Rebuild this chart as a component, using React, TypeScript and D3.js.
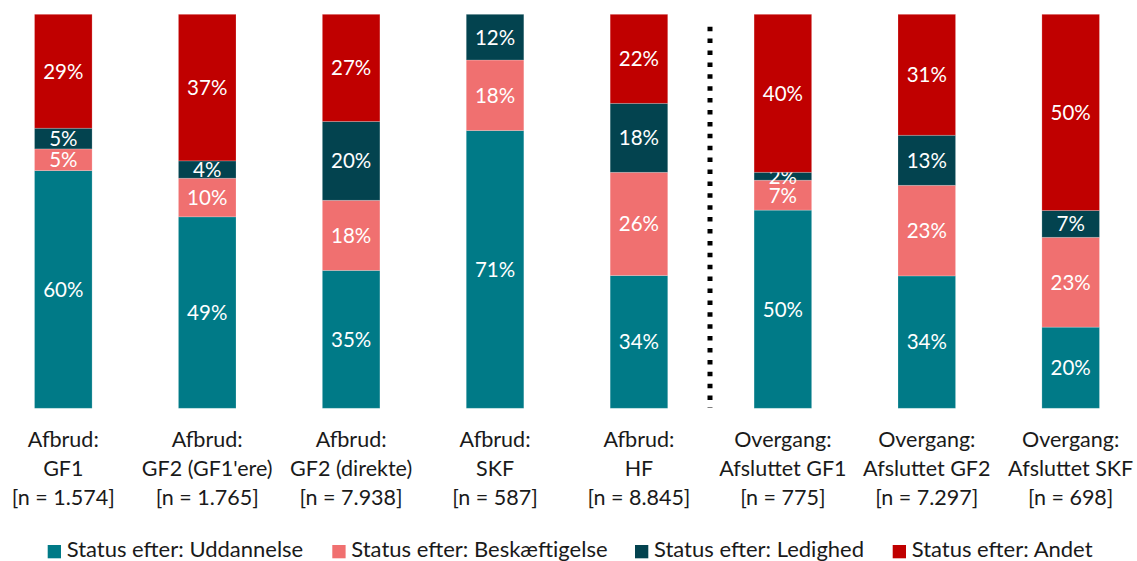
import React from "react";
import * as d3 from "d3";

const categories = [
  ["Afbrud:", "GF1", "[n = 1.574]"],
  ["Afbrud:", "GF2 (GF1'ere)", "[n = 1.765]"],
  ["Afbrud:", "GF2 (direkte)", "[n = 7.938]"],
  ["Afbrud:", "SKF", "[n = 587]"],
  ["Afbrud:", "HF", "[n = 8.845]"],
  ["Overgang:", "Afsluttet GF1", "[n = 775]"],
  ["Overgang:", "Afsluttet GF2", "[n = 7.297]"],
  ["Overgang:", "Afsluttet SKF", "[n = 698]"],
];

const seriesNames = [
  "Status efter: Uddannelse",
  "Status efter: Beskæftigelse",
  "Status efter: Ledighed",
  "Status efter: Andet",
];

const uddannelse = [60.3, 48.6, 35.0, 70.5, 33.7, 50.3, 33.6, 20.6];
const beskaeftigelse = [5.5, 9.8, 17.8, 17.9, 26.2, 7.6, 23.0, 22.8];
const ledighed = [5.25, 4.4, 20.0, 11.6, 17.5, 2.0, 12.7, 6.8];
const andet = [28.9, 37.2, 27.2, 0, 22.6, 40.1, 30.7, 49.8];

const labelsUdd = ["60%", "49%", "35%", "71%", "34%", "50%", "34%", "20%"];
const labelsBesk = ["5%", "10%", "18%", "18%", "26%", "7%", "23%", "23%"];
const labelsLed = ["5%", "4%", "20%", "12%", "18%", "2%", "13%", "7%"];
const labelsAndet = ["29%", "37%", "27%", "", "22%", "40%", "31%", "50%"];

const colors = ["#007A87", "#F07070", "#03434F", "#C00000"];

const W = 1137;
const H = 561;
const FONT = "Lato, 'Open Sans', sans-serif";

export default function App() {
  const series = [uddannelse, beskaeftigelse, ledighed, andet];
  const labels = [labelsUdd, labelsBesk, labelsLed, labelsAndet];
  const keys = categories.map((c) => c.join("|"));

  const x = d3
    .scaleBand<string>()
    .domain(keys)
    .range([-8.65, 1142.65])
    .paddingInner(0.6)
    .paddingOuter(0.3);

  const y = d3.scaleLinear().domain([0, 100]).range([408.3, 14.3]);

  const rows = keys.map((k, i) => {
    const total = series.reduce((s, arr) => s + arr[i], 0);
    const r: any = { key: k };
    series.forEach((arr, j) => (r["s" + j] = (arr[i] / total) * 100));
    return r;
  });
  const stack = d3.stack<any>().keys(["s0", "s1", "s2", "s3"]);
  const stacked = stack(rows);

  const legendX = [47.7, 332.3, 635, 892.7];

  return (
    <svg
      width={W}
      height={H}
      style={{ position: "absolute", left: 0, top: 0, background: "#fff" }}
      fontFamily={FONT}
    >
      {stacked.map((layer, j) => (
        <g key={j}>
          {layer.map((d, i) => {
            const x0 = x(keys[i])!;
            const y0 = y(d[1]);
            const h = y(d[0]) - y(d[1]);
            if (h <= 0) return null;
            return (
              <g key={i}>
                <rect
                  x={x0}
                  y={y0}
                  width={x.bandwidth()}
                  height={h}
                  fill={colors[j]}
                  stroke="#ffffff"
                  strokeOpacity={0.25}
                  strokeWidth={0.8}
                />
                {labels[j][i] && (
                  <text
                    x={x0 + x.bandwidth() / 2}
                    y={y0 + h / 2}
                    dy="0.36em"
                    textAnchor="middle"
                    fill="#fff"
                    fontSize={20.5}
                  >
                    {labels[j][i]}
                  </text>
                )}
              </g>
            );
          })}
        </g>
      ))}

      <line
        x1={710}
        x2={710}
        y1={26.7}
        y2={408}
        stroke="#000"
        strokeWidth={5}
        strokeDasharray="4.5 7.4"
      />

      {categories.map((c, i) => (
        <text
          key={i}
          x={x(keys[i])! + x.bandwidth() / 2}
          textAnchor="middle"
          fill="#1a1a1a"
          fontSize={21.5}
        >
          {c.map((line, l) => (
            <tspan key={l} x={x(keys[i])! + x.bandwidth() / 2} y={446.7 + l * 29.3}>
              {line}
            </tspan>
          ))}
        </text>
      ))}

      {seriesNames.map((n, j) => (
        <g key={n}>
          <rect x={legendX[j]} y={545} width={13.3} height={13.3} fill={colors[j]} />
          <text x={legendX[j] + 19} y={557} fontSize={22} fill="#1a1a1a">
            {n}
          </text>
        </g>
      ))}
    </svg>
  );
}
